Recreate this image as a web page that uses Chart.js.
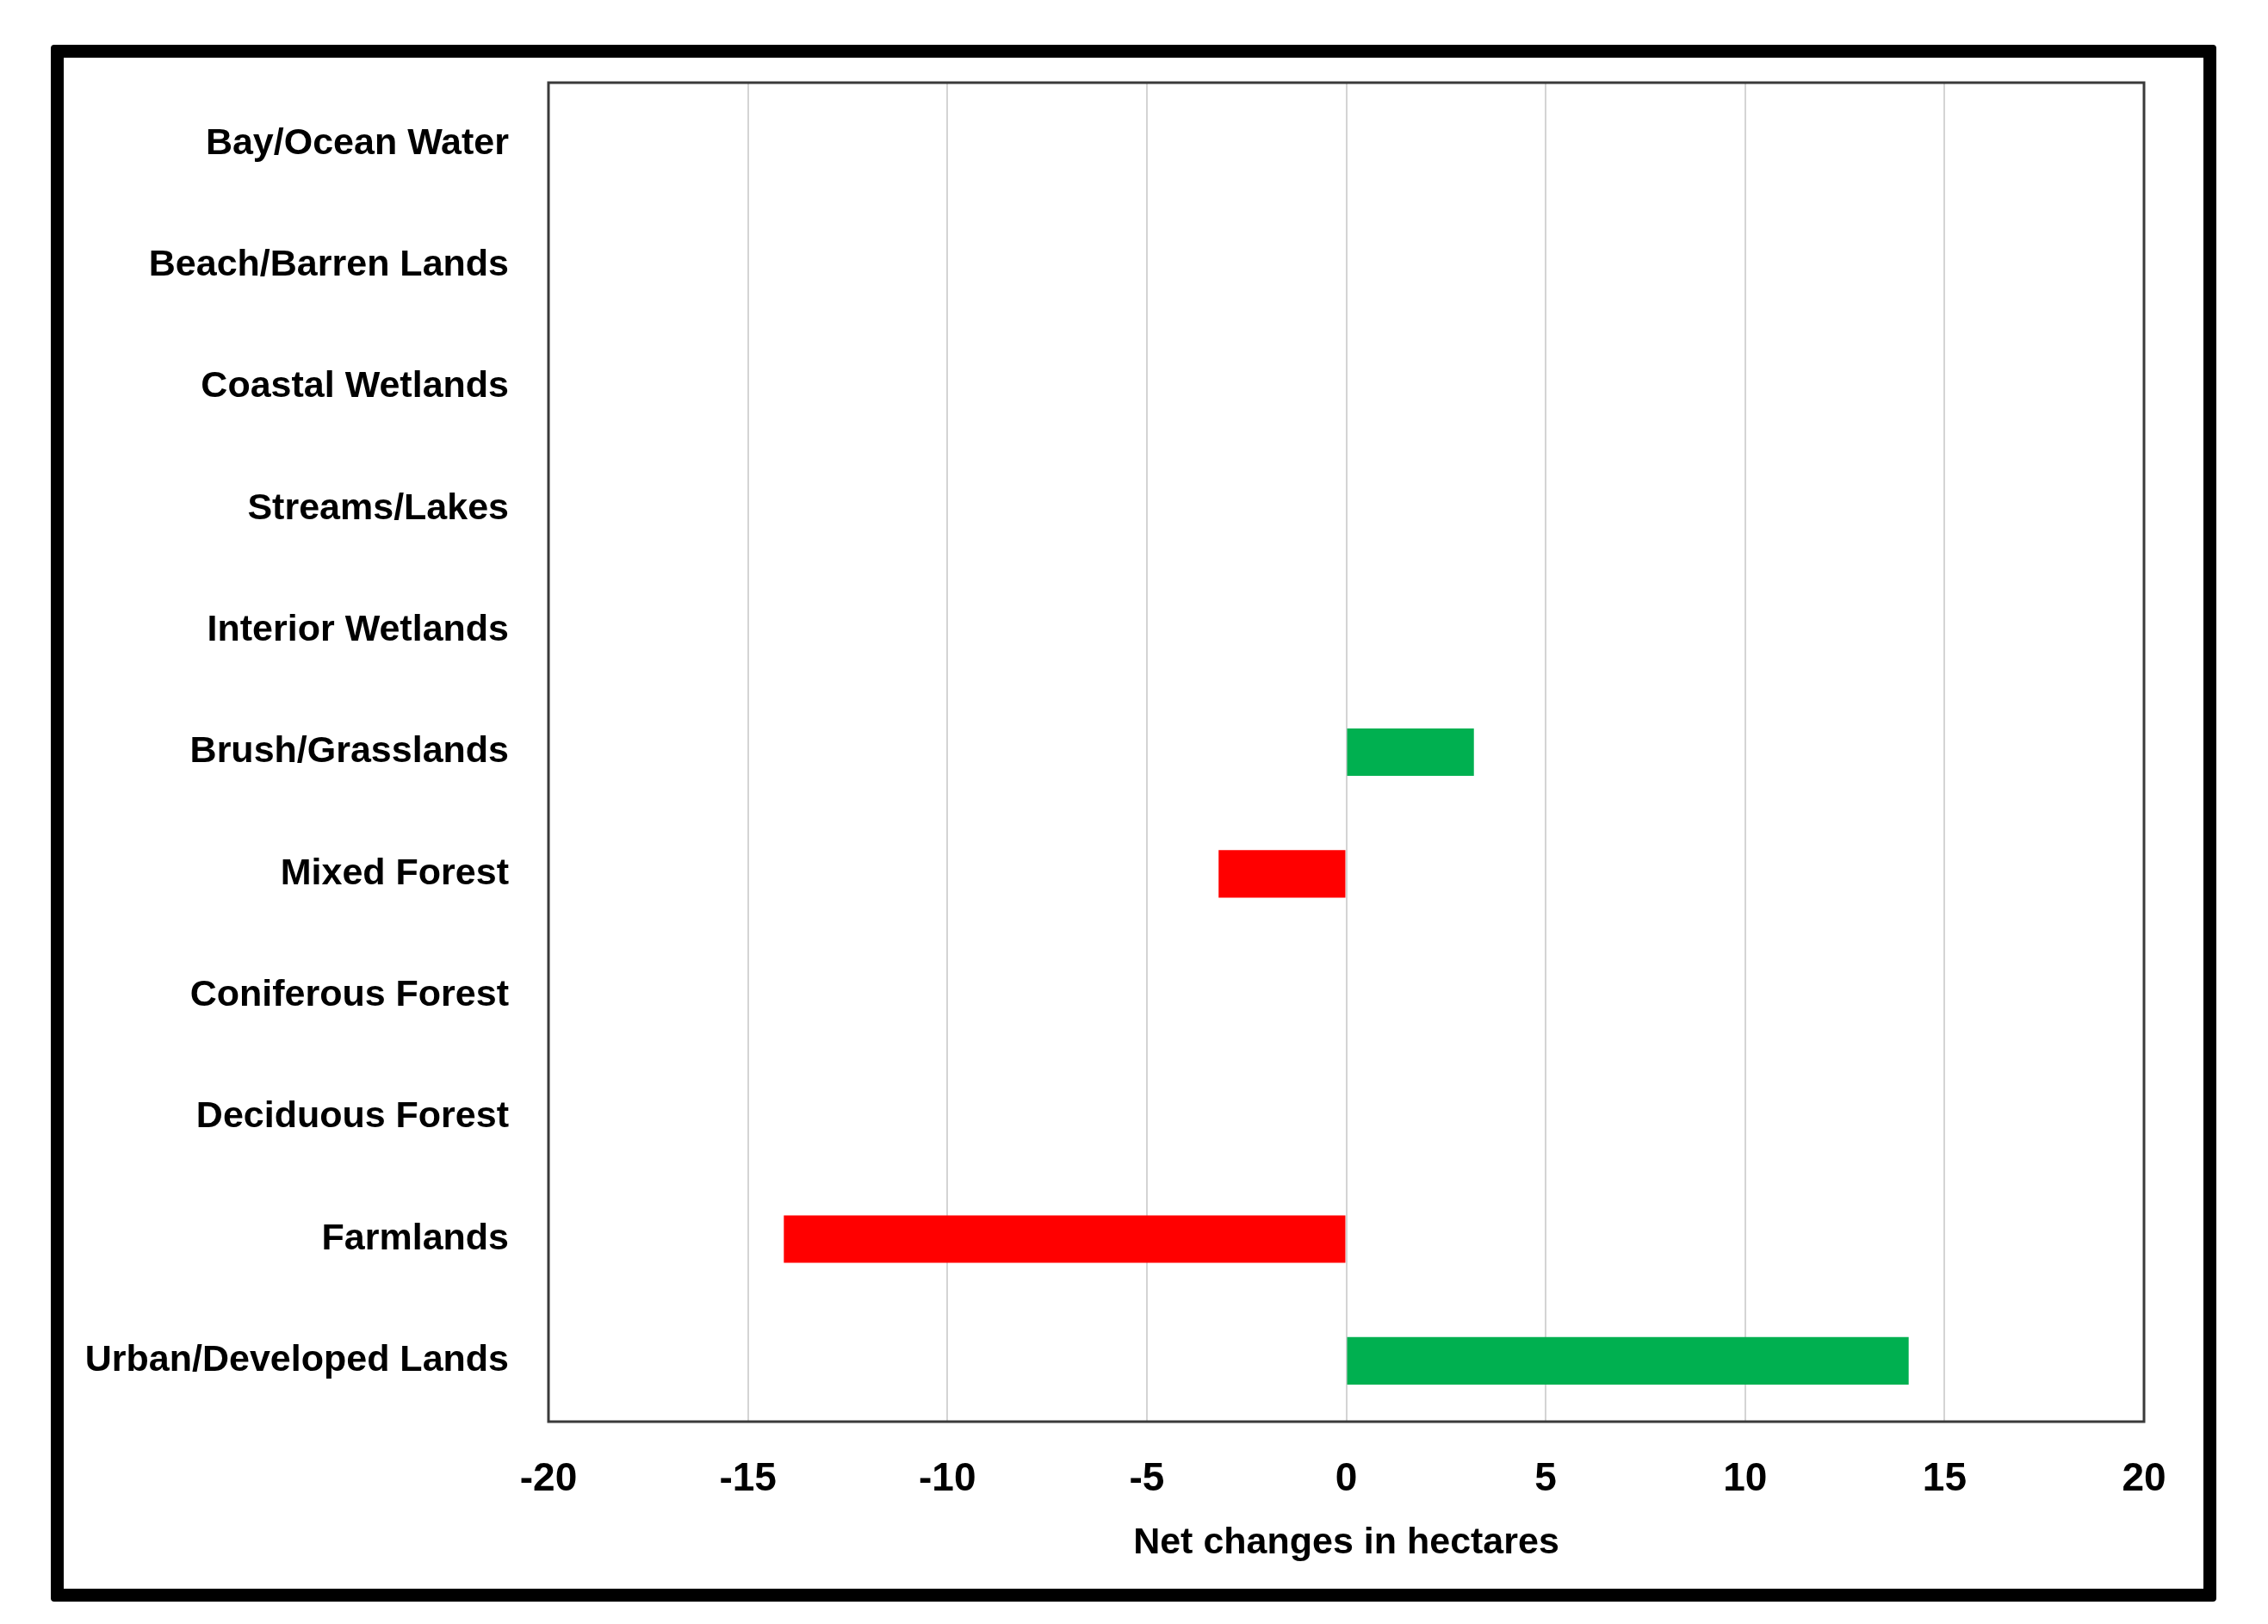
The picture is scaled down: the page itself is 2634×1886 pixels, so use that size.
<!DOCTYPE html>
<html>
<head>
<meta charset="utf-8">
<script src="https://cdn.jsdelivr.net/npm/chart.js@4"></script>
<style>
  html, body { margin: 0; padding: 0; background: #fff; }
  .wrap { position: relative; width: 2634px; height: 1886px; }
  .frame {
    position: absolute; left: 59px; top: 52px; width: 2515px; height: 1808px;
    box-sizing: border-box; border: 15px solid #000; border-radius: 4px;
    pointer-events: none;
  }
  canvas { position: absolute; left: 0; top: 0; }
</style>
</head>
<body>
<div class="wrap">
  <canvas id="cnv"></canvas>
  <div class="frame"></div>
</div>
<script>
const categories = [
  'Bay/Ocean Water',
  'Beach/Barren Lands',
  'Coastal Wetlands',
  'Streams/Lakes',
  'Interior Wetlands',
  'Brush/Grasslands',
  'Mixed Forest',
  'Coniferous Forest',
  'Deciduous Forest',
  'Farmlands',
  'Urban/Developed Lands'
]
const netChange = [0, 0, 0, 0, 0, 3.2, -3.2, 0, 0, -14.1, 14.1]
const xTicks = [-20, -15, -10, -5, 0, 5, 10, 15, 20]

const family = "'Liberation Sans Narrow', 'Arial Narrow', 'Liberation Sans', sans-serif"
const labelFont = { family, weight: 'bold', size: 43 }
const tickFont = { family, weight: 'bold', size: 46 }

// draw the dark box round the plot area
const plotBorder = {
  id: 'plotBorder',
  afterDraw (chart) {
    const { ctx, chartArea: a } = chart
    ctx.save()
    ctx.strokeStyle = '#3a3a3a'
    ctx.lineWidth = 3
    ctx.strokeRect(a.left, a.top, a.right - a.left, a.bottom - a.top)
    ctx.restore()
  }
}

const canvas = document.getElementById('cnv')
canvas.parentNode.style.width = '2634px'
canvas.parentNode.style.height = '1886px'

new Chart(canvas, {
  type: 'bar',
  data: {
    labels: categories,
    datasets: [{
      data: netChange,
      backgroundColor: c => (c.raw < 0 ? '#ff0000' : '#00b050'),
      borderWidth: 0,
      categoryPercentage: 1,
      barPercentage: 0.39
    }]
  },
  options: {
    indexAxis: 'y',
    responsive: true,
    maintainAspectRatio: false,
    animation: false,
    layout: { padding: { left: 0, right: 144, top: 96, bottom: 0 } },
    plugins: { legend: { display: false }, tooltip: { enabled: false } },
    scales: {
      x: {
        min: -20,
        max: 20,
        afterBuildTicks: s => { s.ticks = xTicks.map(v => ({ value: v })) },
        afterFit: s => { s.height = 235 },
        grid: { color: '#d4d4d4', lineWidth: 2, drawTicks: false },
        border: { display: false },
        ticks: { color: '#000', font: tickFont, padding: 40 },
        title: {
          display: true,
          text: 'Net changes in hectares',
          color: '#000',
          font: labelFont,
          padding: { top: 0, bottom: 68 }
        }
      },
      y: {
        afterFit: s => { s.width = 637 },
        grid: { display: false, drawTicks: false },
        border: { display: false },
        ticks: { color: '#000', font: labelFont, padding: 46 }
      }
    }
  },
  plugins: [plotBorder]
})
</script>
</body>
</html>
